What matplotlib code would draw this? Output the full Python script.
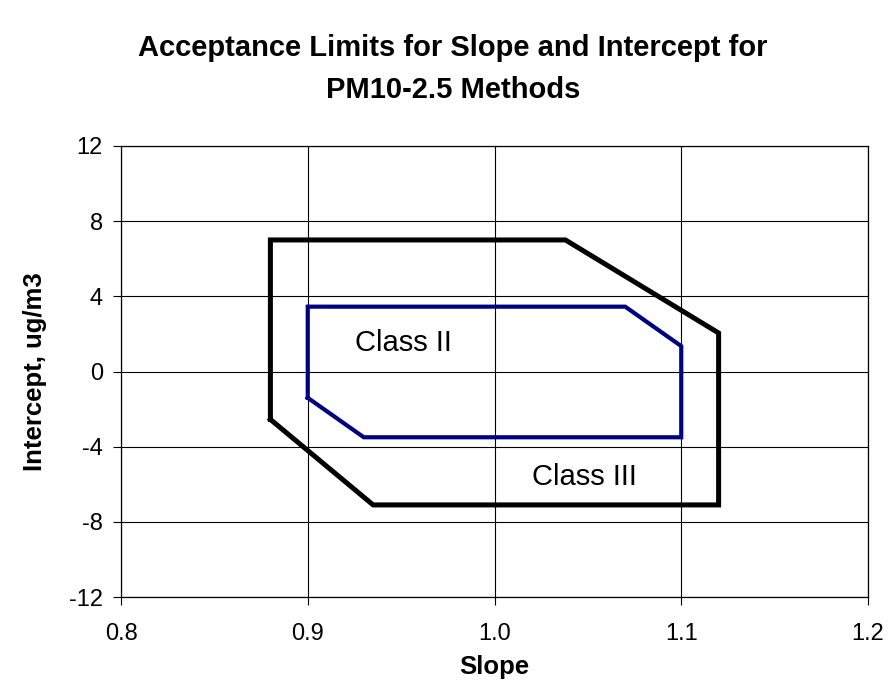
import matplotlib
matplotlib.use("Agg")
import matplotlib.pyplot as plt

plt.rcParams['font.family'] = ['Liberation Sans', 'DejaVu Sans']
plt.rcParams['axes.unicode_minus'] = False

# Class III acceptance polygon (slope, intercept)
class3_slope = [0.88, 0.88, 1.038, 1.12, 1.12, 0.935, 0.88]
class3_int = [-2.55, 7.0, 7.0, 2.05, -7.1, -7.1, -2.55]
# Class II acceptance polygon
class2_slope = [0.90, 0.90, 1.07, 1.10, 1.10, 0.93, 0.90]
class2_int = [-1.4, 3.45, 3.45, 1.35, -3.5, -3.5, -1.4]

x_ticks = [0.8, 0.9, 1.0, 1.1, 1.2]
x_labels = ["0.8", "0.9", "1.0", "1.1", "1.2"]
y_ticks = [-12, -8, -4, 0, 4, 8, 12]

fig = plt.figure(figsize=(8.9, 6.92), dpi=100)
ax = fig.add_axes([121/890, 1 - 597/692, (868-121)/890, (597-146)/692])

ax.plot(class3_slope, class3_int, color='black', lw=3.6, solid_joinstyle='miter')
ax.plot(class2_slope, class2_int, color='#000080', lw=3.0, solid_joinstyle='miter')

ax.text(0.9515, 1.1, "Class II", fontsize=21, ha='center', va='baseline')
ax.text(1.048, -6.05, "Class III", fontsize=21, ha='center', va='baseline')

ax.set_xlim(0.8, 1.2)
ax.set_ylim(-12, 12)
ax.set_xticks(x_ticks)
ax.set_xticklabels(x_labels)
ax.set_yticks(y_ticks)
ax.grid(True, color='black', lw=0.8)
ax.set_axisbelow(True)
for s in ax.spines.values():
    s.set_color('black')
    s.set_linewidth(0.9)
ax.tick_params(direction='out', length=6, width=0.8, labelsize=17)
ax.tick_params(axis='x', pad=13)
ax.tick_params(axis='y', pad=7)

ax.set_xlabel("Slope", fontsize=18.5, fontweight='bold', labelpad=7)
ax.set_ylabel("Intercept, ug/m3", fontsize=18.5, fontweight='bold', labelpad=16)

fig.text(453/890, 1 - 69/692, "Acceptance Limits for Slope and Intercept for\nPM10-2.5 Methods",
         ha='center', va='center', fontsize=21, fontweight='bold', linespacing=1.6)

fig.savefig("out.png", dpi=100)
